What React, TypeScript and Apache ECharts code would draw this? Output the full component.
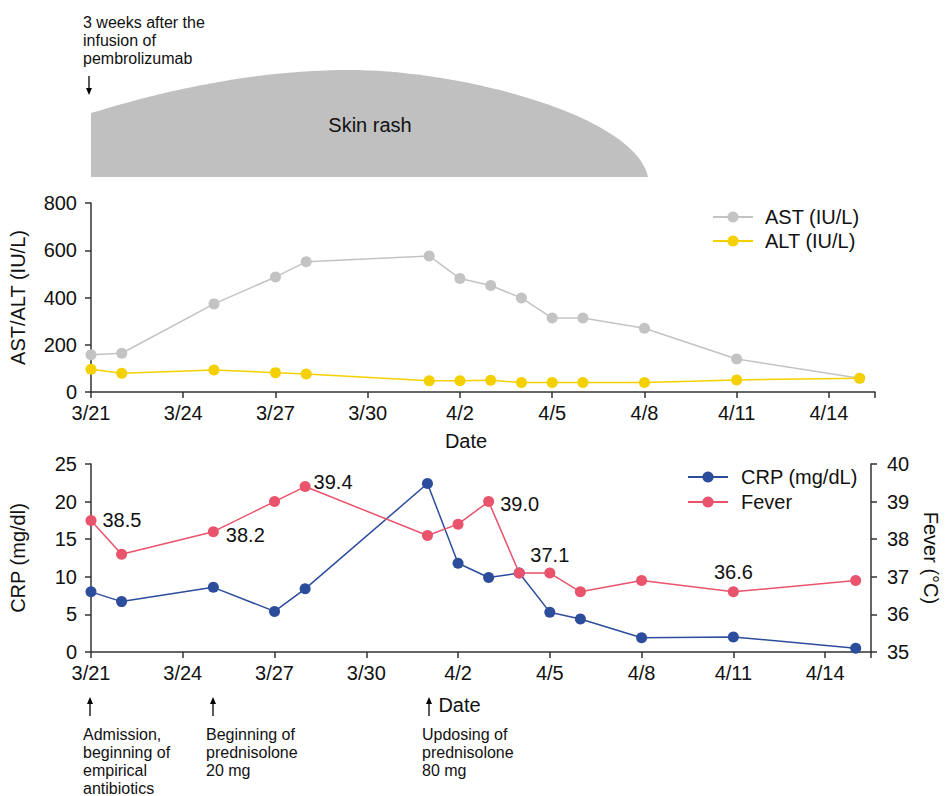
import { useEffect, useRef } from "react";
import * as echarts from "echarts";

// ---------- data ----------
const dates = ["3/21", "3/22", "3/25", "3/27", "3/28", "4/1", "4/2", "4/3", "4/4", "4/5", "4/6", "4/8", "4/11", "4/15"];
const astValues = [158, 164, 373, 487, 551, 576, 480, 451, 398, 313, 313, 270, 140, 58];
const altValues = [96, 79, 93, 82, 76, 48, 48, 50, 40, 40, 40, 40, 51, 58];
const crpValues = [8.0, 6.7, 8.6, 5.4, 8.4, 22.4, 11.8, 9.9, 10.5, 5.3, 4.4, 1.9, 2.0, 0.5];
const feverValues = [38.5, 37.6, 38.2, 39.0, 39.4, 38.1, 38.4, 39.0, 37.1, 37.1, 36.6, 36.9, 36.6, 36.9];
const xTickLabels = ["3/21", "3/24", "3/27", "3/30", "4/2", "4/5", "4/8", "4/11", "4/14"];
const feverLabelled = ["3/21", "3/25", "3/28", "4/3", "4/5", "4/11"];

const RASH_D = "M91,177 L91,113 C160,92 250,70 350,70 C460,70 635,115 648,177 Z";
try {
  echarts.graphic.registerShape("rash", echarts.graphic.extendPath(RASH_D, {}));
} catch (e) {}

const monthStart: Record<number, number> = { 3: 0, 4: 31 };
const dayOffset = (s: string) => {
  const [m, d] = s.split("/").map(Number);
  return monthStart[m] + d - 21;
};

const FONT = "'Liberation Sans', Arial, sans-serif";
const TXT = "#111";
const AX = "#333";

const labelPlacement: Record<string, any> = {
  "3/21": { position: "right", distance: 6, offset: [0, 0] },
  "3/25": { position: "right", distance: 7, offset: [0, 3] },
  "3/28": { position: "right", distance: 3, offset: [0, -5] },
  "4/3": { position: "right", distance: 6, offset: [0, 2] },
  "4/5": { position: "top", distance: 3, offset: [0, 0] },
  "4/11": { position: "top", distance: 4, offset: [0, 0] },
};

const xFormatter = (v: number) => {
  const k = v / 3;
  return Number.isInteger(k) && xTickLabels[k] ? xTickLabels[k] : "";
};

const makeX = (gridIndex: number, nameGap: number, padRight: number) => ({
  type: "value",
  gridIndex,
  min: 0,
  max: 25.5,
  interval: 3,
  axisLine: { show: true, lineStyle: { color: AX, width: 1.5 } },
  axisTick: { show: true, length: 6, lineStyle: { color: AX, width: 1.5 } },
  axisLabel: { fontSize: 20, color: TXT, margin: 11, formatter: xFormatter, fontFamily: FONT },
  splitLine: { show: false },
  name: "Date",
  nameLocation: "middle",
  nameGap,
  nameTextStyle: { fontSize: 20, color: TXT, fontFamily: FONT, padding: [0, padRight, 0, 0] },
});

const yBase = {
  type: "value",
  axisLine: { show: true, lineStyle: { color: AX, width: 1.5 } },
  axisTick: { show: true, length: 6, lineStyle: { color: AX, width: 1.5 } },
  splitLine: { show: false },
  nameLocation: "middle",
  nameTextStyle: { fontSize: 20, color: TXT, fontFamily: FONT },
};

const lineSeries = (name: string, color: string, xi: number, yi: number, values: number[]) => ({
  name,
  type: "line",
  xAxisIndex: xi,
  yAxisIndex: yi,
  data: dates.map((d, i) => [dayOffset(d), values[i]]),
  symbol: "circle",
  symbolSize: 11,
  itemStyle: { color },
  lineStyle: { color, width: 1.5 },
});

const upArrow = (x: number) => [
  { type: "line", shape: { x1: x, y1: 716, x2: x, y2: 702 }, style: { stroke: "#000", lineWidth: 1.3 } },
  { type: "polygon", shape: { points: [[x - 3, 704], [x + 3, 704], [x, 697]] }, style: { fill: "#000" } },
];

const annText = (left: number, top: number, text: string) => ({
  type: "text",
  left,
  top,
  style: { text, fontSize: 16, lineHeight: 18, fill: TXT, fontFamily: FONT },
});

export default function App() {
  const ref = useRef<HTMLDivElement>(null);
  useEffect(() => {
    if (!ref.current) return;
    const chart = echarts.init(ref.current, null, { renderer: "svg" });
    const fever = lineSeries("Fever", "#e9536b", 1, 2, feverValues);
    (fever as any).data = dates.map((d, i) => {
      const item: any = { value: [dayOffset(d), feverValues[i]] };
      if (feverLabelled.includes(d)) {
        item.label = {
          show: true,
          ...labelPlacement[d],
          formatter: () => feverValues[i].toFixed(1),
          fontSize: 20,
          color: TXT,
          fontFamily: FONT,
        };
      }
      return item;
    });

    chart.setOption({
      animation: false,
      textStyle: { fontFamily: FONT },
      grid: [
        { left: 91, right: 74, top: 203, height: 189 },
        { left: 91, right: 74, top: 464, height: 188 },
      ],
      xAxis: [makeX(0, 39, 34), makeX(1, 43, 43)],
      yAxis: [
        {
          ...yBase,
          gridIndex: 0,
          min: 0,
          max: 800,
          interval: 200,
          name: "AST/ALT (IU/L)",
          nameGap: 63,
          axisLabel: { fontSize: 20, color: TXT, margin: 14, fontFamily: FONT },
        },
        {
          ...yBase,
          gridIndex: 1,
          min: 0,
          max: 25,
          interval: 5,
          name: "CRP (mg/dl)",
          nameGap: 63,
          axisLabel: { fontSize: 20, color: TXT, margin: 14, fontFamily: FONT },
        },
        {
          ...yBase,
          gridIndex: 1,
          position: "right",
          min: 35,
          max: 40,
          interval: 1,
          name: "Fever (°C)",
          nameRotate: -90,
          nameGap: 50,
          axisLabel: { fontSize: 20, color: TXT, margin: 16, fontFamily: FONT },
        },
      ],
      legend: [
        {
          data: ["AST (IU/L)", "ALT (IU/L)"],
          orient: "vertical",
          left: 707,
          top: 202,
          itemWidth: 40,
          itemHeight: 14,
          itemGap: 4,
          textStyle: { fontSize: 20, color: TXT, fontFamily: FONT, padding: [0, 0, 0, 7] },
        },
        {
          data: ["CRP (mg/dL)", "Fever"],
          orient: "vertical",
          left: 682,
          top: 462,
          itemWidth: 40,
          itemHeight: 14,
          itemGap: 5,
          textStyle: { fontSize: 20, color: TXT, fontFamily: FONT, padding: [0, 0, 0, 8] },
        },
      ],
      series: [
        lineSeries("AST (IU/L)", "#c3c3c3", 0, 0, astValues),
        lineSeries("ALT (IU/L)", "#f5d000", 0, 0, altValues),
        lineSeries("CRP (mg/dL)", "#2c4c9c", 1, 1, crpValues),
        fever,
      ],
      graphic: [
        { type: "rash", x: 0, y: 0, style: { fill: "#c0c0c0" } },
        {
          type: "text",
          x: 370,
          y: 125,
          style: { text: "Skin rash", fontSize: 20, fill: TXT, fontFamily: FONT, align: "center", verticalAlign: "middle" },
        },
        annText(83, 13, "3 weeks after the\ninfusion of\npembrolizumab"),
        { type: "line", shape: { x1: 89, y1: 76, x2: 89, y2: 90 }, style: { stroke: "#000", lineWidth: 1.3 } },
        { type: "polygon", shape: { points: [[86, 88], [92, 88], [89, 95]] }, style: { fill: "#000" } },
        ...upArrow(90),
        ...upArrow(213),
        ...upArrow(429),
        annText(83, 725, "Admission,\nbeginning of\nempirical\nantibiotics"),
        annText(206, 725, "Beginning of\nprednisolone\n20 mg"),
        annText(422, 725, "Updosing of\nprednisolone\n80 mg"),
      ],
    });
    return () => chart.dispose();
  }, []);
  return (
    <div
      ref={ref}
      style={{ position: "fixed", left: 0, top: 0, width: 949, height: 796, background: "#fff" }}
    />
  );
}
